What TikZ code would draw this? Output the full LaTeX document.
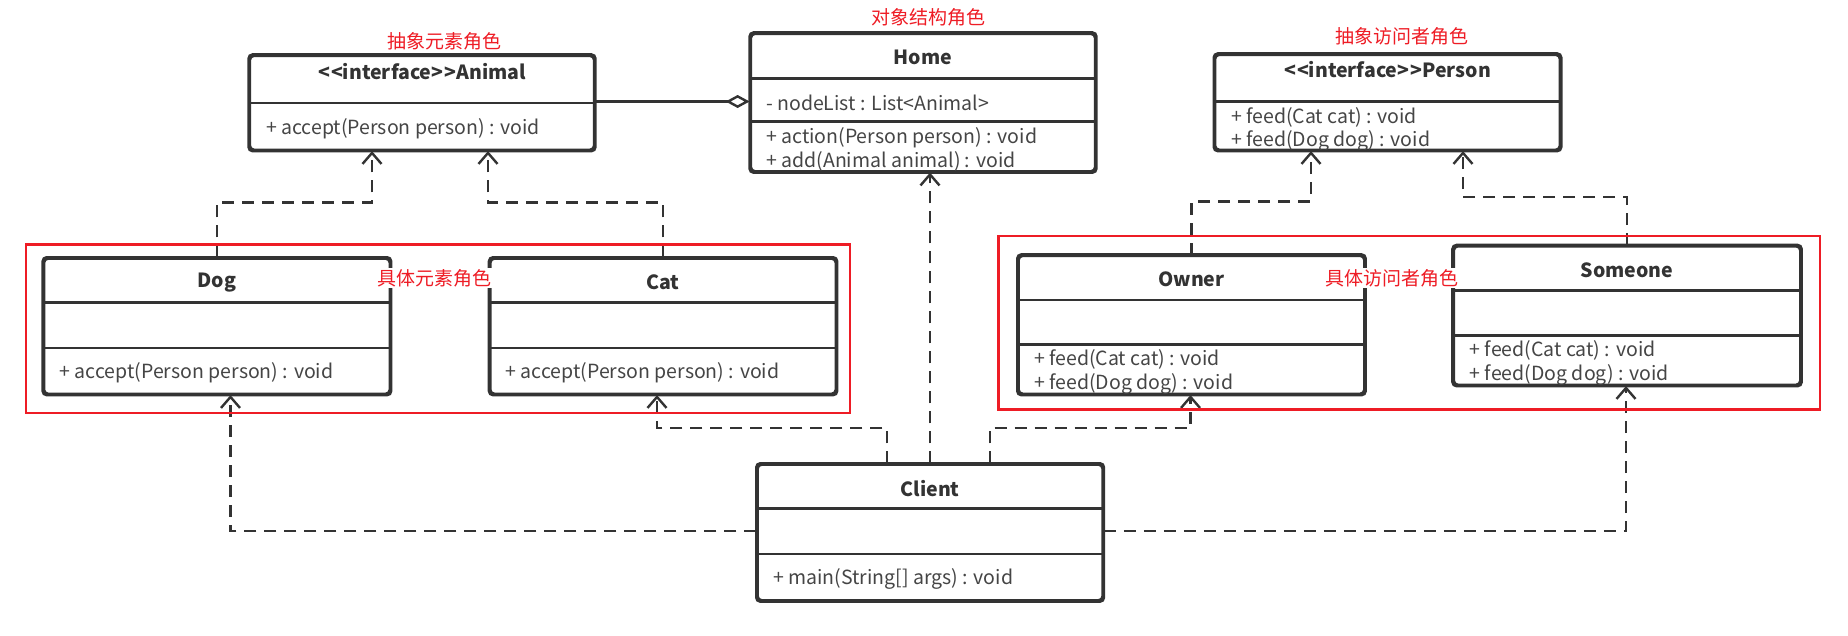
\documentclass[tikz,border=0pt]{standalone}
\usepackage{fontspec}
\setmainfont{Noto Sans CJK SC}
\usetikzlibrary{arrows.meta,calc}
\definecolor{ink}{HTML}{333333}
\definecolor{txt}{HTML}{454545}
\definecolor{mark}{HTML}{EE1C25}

\tikzset{
  boxline/.style={draw=ink, line width=2.6pt, rounded corners=4pt},
  classbox/.style={boxline, fill=white, anchor=north west, inner sep=0pt},
  sepline/.style={draw=ink, line width=2.4pt},
  cname/.style={font=\fontsize{19.5}{22}\selectfont\bfseries, text=ink, inner sep=0pt},
  member/.style={font=\fontsize{19.5}{22}\selectfont, text=txt, anchor=west, inner sep=0pt},
  role/.style={font=\fontsize{19}{22}\selectfont, text=mark, inner sep=1pt},
  rolebg/.style={role, fill=white},
  dep/.style={draw=ink, line width=2.6pt, dash pattern=on 12pt off 8pt,
    -{Straight Barb[length=11pt,width=19pt,line width=2.4pt]}},
  agg/.style={draw=ink, line width=2.6pt,
    -{Diamond[open,length=24pt,width=13pt,line width=2.4pt]}},
  zone/.style={draw=mark, line width=2.6pt, anchor=north west, inner sep=0pt},
}

% class box: name, left, top, right, bottom
\newcommand\umlclass[5]{%
  \node[classbox, minimum width={#4-#2}, minimum height={#5-#3}] (#1) at (#2,#3) {};}
% horizontal compartment separator inside a box: name, y
\newcommand\umlsep[2]{%
  \draw[sepline] (#1.west |- 0,#2) -- (#1.east |- 0,#2);}
% stereotype brackets, set apart as single glyphs
\newcommand\stl{{<}\kern1pt{<}}
\newcommand\str{{>}\kern1pt{>}}

\begin{document}
\begin{tikzpicture}[x=1pt,y=-1pt]
\useasboundingbox (0,0) rectangle (1848,635);

% ---- boxes
\umlclass{animal}{248.6}{54.5}{592.8}{148.5}
\umlsep{animal}{103}
\umlclass{home}{749.6}{32.5}{1093.8}{170}
\umlsep{home}{78.5}\umlsep{home}{121.5}
\umlclass{person}{1213.8}{53.5}{1558.6}{148.5}
\umlsep{person}{101.5}
\umlclass{dog}{42.7}{257.3}{388.5}{392.5}
\umlsep{dog}{302.5}\umlsep{dog}{347.8}
\umlclass{cat}{489}{257.3}{834.5}{392.5}
\umlsep{cat}{302.5}\umlsep{cat}{347.8}
\umlclass{owner}{1017.3}{254.5}{1363}{392.5}
\umlsep{owner}{300}\umlsep{owner}{344.5}
\umlclass{someone}{1452.5}{245}{1799}{383.5}
\umlsep{someone}{290.5}\umlsep{someone}{335.5}
\umlclass{client}{756.3}{463.3}{1101.3}{599}
\umlsep{client}{508.5}\umlsep{client}{554}

% ---- box texts
\node[cname] (animalT) at (animal.north |- 0,71.5) {\stl interface\str Animal};
\node[member] (animalM) at (266,129) {+ accept(Person person) : void};

\node[cname] (homeT) at (home.north |- 0,57) {Home};
\node[member] (homeA) at (766,102.5) {- nodeList : List<Animal>};
\node[member] (homeM1) at (766,138) {+ action(Person person) : void};
\node[member] (homeM2) at (766,161.5) {+ add(Animal animal) : void};

\node[cname] (personT) at (person.north |- 0,69.5) {\stl interface\str Person};
\node[member] (personM1) at (1231,117) {+ feed(Cat cat) : void};
\node[member] (personM2) at (1231,140.5) {+ feed(Dog dog) : void};

\node[cname] (dogT) at (dog.north |- 0,282.7) {Dog};
\node[member] (dogM) at (59.5,372.5) {+ accept(Person person) : void};

\node[cname] (catT) at (cat.north |- 0,282.7) {Cat};
\node[member] (catM) at (505.5,372.5) {+ accept(Person person) : void};

\node[cname] (ownerT) at (owner.north |- 0,279.3) {Owner};
\node[member] (ownerM1) at (1034,359.5) {+ feed(Cat cat) : void};
\node[member] (ownerM2) at (1034,383.5) {+ feed(Dog dog) : void};

\node[cname] (someoneT) at (someone.north |- 0,270) {Someone};
\node[member] (someoneM1) at (1469.5,350.5) {+ feed(Cat cat) : void};
\node[member] (someoneM2) at (1469.5,374.5) {+ feed(Dog dog) : void};

\node[cname] (clientT) at (client.north |- 0,489) {Client};
\node[member] (clientM) at (773,579) {+ main(String[] args) : void};

% borders drawn again over clipped member lines
\foreach \b in {animal,home,person,dog,cat,owner,someone,client}
  \draw[boxline] (\b.north west) rectangle (\b.south east);

% ---- relations
\draw[agg] (animal.east |- 0,101.5) -- (home.west |- 0,101.5);

\draw[dep] (dog.north) -- (dog.north |- 0,202.5) -| (animal.south -| 372,0);
\draw[dep] (cat.north) -- (cat.north |- 0,202.5) -| (animal.south -| 488,0);
\draw[dep] (owner.north) -- (owner.north |- 0,201.5) -| (person.south -| 1311,0);
\draw[dep] (someone.north) -- (someone.north |- 0,197) -| (person.south -| 1463,0);

\draw[dep] (client.west |- 0,531) -| (dog.south -| 230.5,0);
\draw[dep] (client.north -| 887,0) -- (887,428) -| (cat.south -| 657,0);
\draw[dep] (client.north -| 930,0) -- (home.south -| 930,0);
\draw[dep] (client.north -| 990,0) -- (990,428) -| (owner.south -| 1190.5,0);
\draw[dep] (client.east |- 0,531) -| (someone.south -| 1626,0);

% ---- role frames
\node[zone, minimum width=823.8, minimum height=168.5] (elemzone) at (24.8,243) {};
\node[zone, minimum width=821.5, minimum height=173.5] (visitzone) at (997,234.5) {};

% ---- role captions
\node[role] (roleElem) at (444,41.5) {抽象元素角色};
\node[role] (roleStruct) at (928.7,17.5) {对象结构角色};
\node[role] (roleVisitor) at (1402,36.5) {抽象访问者角色};
\node[rolebg] (roleConcElem) at (434.8,278.3) {具体元素角色};
\node[rolebg] (roleConcVisitor) at (1392,278.3) {具体访问者角色};
\end{tikzpicture}
\end{document}
